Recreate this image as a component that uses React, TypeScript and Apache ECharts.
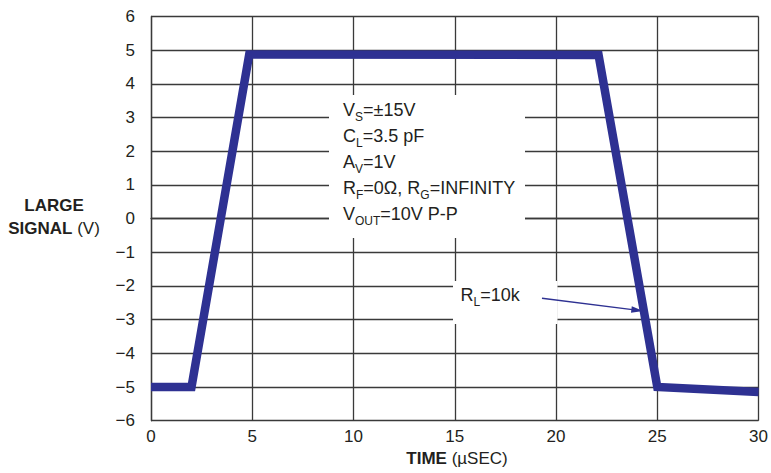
import React, { useEffect, useRef } from "react";
import * as echarts from "echarts";

// ---- data ----
const timeUs = [0, 2.0, 4.85, 22.1, 25.0, 30];
const signalV = [-5.0, -5.0, 4.87, 4.86, -5.0, -5.15];
const xTicks = [0, 5, 10, 15, 20, 25, 30];
const yTicks = [-6, -5, -4, -3, -2, -1, 0, 1, 2, 3, 4, 5, 6];
const annotationLines = [
  ["V", "S", "=±15V"],
  ["C", "L", "=3.5 pF"],
  ["A", "V", "=1V"],
  ["R", "F", "=0Ω, ", "R", "G", "=INFINITY"],
  ["V", "OUT", "=10V P-P"],
];

const FONT = "'Liberation Sans', Arial, Helvetica, sans-serif";
const INK = "#231f20";
const GRIDC = "#3a3a3a";
const BLUE = "#2e3192";

function richLine(parts: string[]): string {
  return parts
    .map((p, i) => (i % 3 === 1 ? `{s|${p}}` : `{m|${p}}`))
    .join("");
}

export default function App() {
  const ref = useRef<HTMLDivElement>(null);
  useEffect(() => {
    if (!ref.current) return;
    const chart = echarts.init(ref.current, undefined, { renderer: "svg" });
    const axisLineStyle = { color: GRIDC, width: 1.3 };
    const annoText = annotationLines.map(richLine).join("\n");

    // arrow geometry (annotation, pixel space)
    const ax0 = 542, ay0 = 298.3, ax1 = 643.3, ay1 = 311;
    const dx = ax1 - ax0, dy = ay1 - ay0;
    const len = Math.hypot(dx, dy);
    const ux = dx / len, uy = dy / len;
    const px = -uy, py = ux;
    const hl = 12, hw = 3.2;
    const bx = ax1 - ux * hl, by = ay1 - uy * hl;

    chart.setOption({
      animation: false,
      backgroundColor: "#ffffff",
      grid: { left: 151, top: 16.5, right: 9, bottom: 52.3, containLabel: false },
      xAxis: {
        type: "value",
        min: xTicks[0],
        max: xTicks[xTicks.length - 1],
        interval: xTicks[1] - xTicks[0],
        axisLine: { show: true, lineStyle: axisLineStyle },
        axisTick: { show: false },
        splitLine: { show: true, lineStyle: axisLineStyle },
        axisLabel: {
          color: INK,
          fontSize: 17,
          fontFamily: FONT,
          margin: 7,
          showMaxLabel: true,
          showMinLabel: true,
        },
      },
      yAxis: {
        type: "value",
        min: yTicks[0],
        max: yTicks[yTicks.length - 1],
        interval: yTicks[1] - yTicks[0],
        axisLine: { show: true, lineStyle: axisLineStyle },
        axisTick: { show: false },
        splitLine: { show: true, lineStyle: axisLineStyle },
        axisLabel: {
          color: INK,
          fontSize: 17,
          fontFamily: FONT,
          margin: 16,
          formatter: (v: number) => (v < 0 ? "\u2212" + Math.abs(v) : String(v)),
        },
      },
      series: [
        {
          type: "line",
          data: timeUs.map((t, i) => [t, signalV[i]]),
          showSymbol: false,
          clip: false,
          z: 5,
          lineStyle: { color: BLUE, width: 8.5, join: "miter", cap: "butt" },
        },
      ],
      graphic: [
        // white box behind condition text
        {
          type: "rect",
          z: 1,
          shape: { x: 329, y: 95, width: 196, height: 143 },
          style: { fill: "#ffffff" },
        },
        // white box behind RL label
        {
          type: "rect",
          z: 1,
          shape: { x: 453, y: 281, width: 104.5, height: 43 },
          style: { fill: "#ffffff" },
        },
        {
          type: "text",
          z: 6,
          x: 343,
          y: 97,
          style: {
            text: annoText,
            fill: INK,
            font: `18px ${FONT}`,
            textAlign: "left",
            textVerticalAlign: "top",
            rich: {
              m: { fontSize: 18, fontFamily: FONT, fill: INK, lineHeight: 26, verticalAlign: "middle" },
              s: { fontSize: 12, fontFamily: FONT, fill: INK, lineHeight: 16, verticalAlign: "bottom" },
            },
          },
        },
        {
          type: "text",
          z: 6,
          x: 460.5,
          y: 282.3,
          style: {
            text: "{m|R}{s|L}{m|=10k}",
            fill: INK,
            font: `18px ${FONT}`,
            textAlign: "left",
            textVerticalAlign: "top",
            rich: {
              m: { fontSize: 18, fontFamily: FONT, fill: INK, lineHeight: 26, verticalAlign: "middle" },
              s: { fontSize: 12, fontFamily: FONT, fill: INK, lineHeight: 16, verticalAlign: "bottom" },
            },
          },
        },
        {
          type: "line",
          z: 6,
          shape: { x1: ax0, y1: ay0, x2: bx + ux * 1, y2: by + uy * 1 },
          style: { stroke: BLUE, lineWidth: 1.4 },
        },
        {
          type: "polygon",
          z: 6,
          shape: {
            points: [
              [ax1, ay1],
              [bx + px * hw, by + py * hw],
              [bx - px * hw, by - py * hw],
            ],
          },
          style: { fill: BLUE },
        },
        // y-axis title
        {
          type: "text",
          z: 6,
          x: 54,
          y: 194,
          style: {
            text: "{b|LARGE}\n{b|SIGNAL} {n|(V)}",
            fill: INK,
            font: `bold 17px ${FONT}`,
            textAlign: "center",
            textVerticalAlign: "top",
            rich: {
              b: { fontSize: 17, fontWeight: "bold", fontFamily: FONT, fill: INK, lineHeight: 23 },
              n: { fontSize: 17, fontWeight: "normal", fontFamily: FONT, fill: INK, lineHeight: 23 },
            },
          },
        },
        // x-axis title
        {
          type: "text",
          z: 6,
          x: 457,
          y: 458.5,
          style: {
            text: "{b|TIME} {n|(µSEC)}",
            fill: INK,
            font: `bold 17px ${FONT}`,
            textAlign: "center",
            textVerticalAlign: "middle",
            rich: {
              b: { fontSize: 17, fontWeight: "bold", fontFamily: FONT, fill: INK, lineHeight: 20 },
              n: { fontSize: 17, fontWeight: "normal", fontFamily: FONT, fill: INK, lineHeight: 20 },
            },
          },
        },
      ],
    });
    return () => chart.dispose();
  }, []);
  return (
    <div
      ref={ref}
      style={{ position: "fixed", left: 0, top: 0, width: 771, height: 473, background: "#fff" }}
    />
  );
}
